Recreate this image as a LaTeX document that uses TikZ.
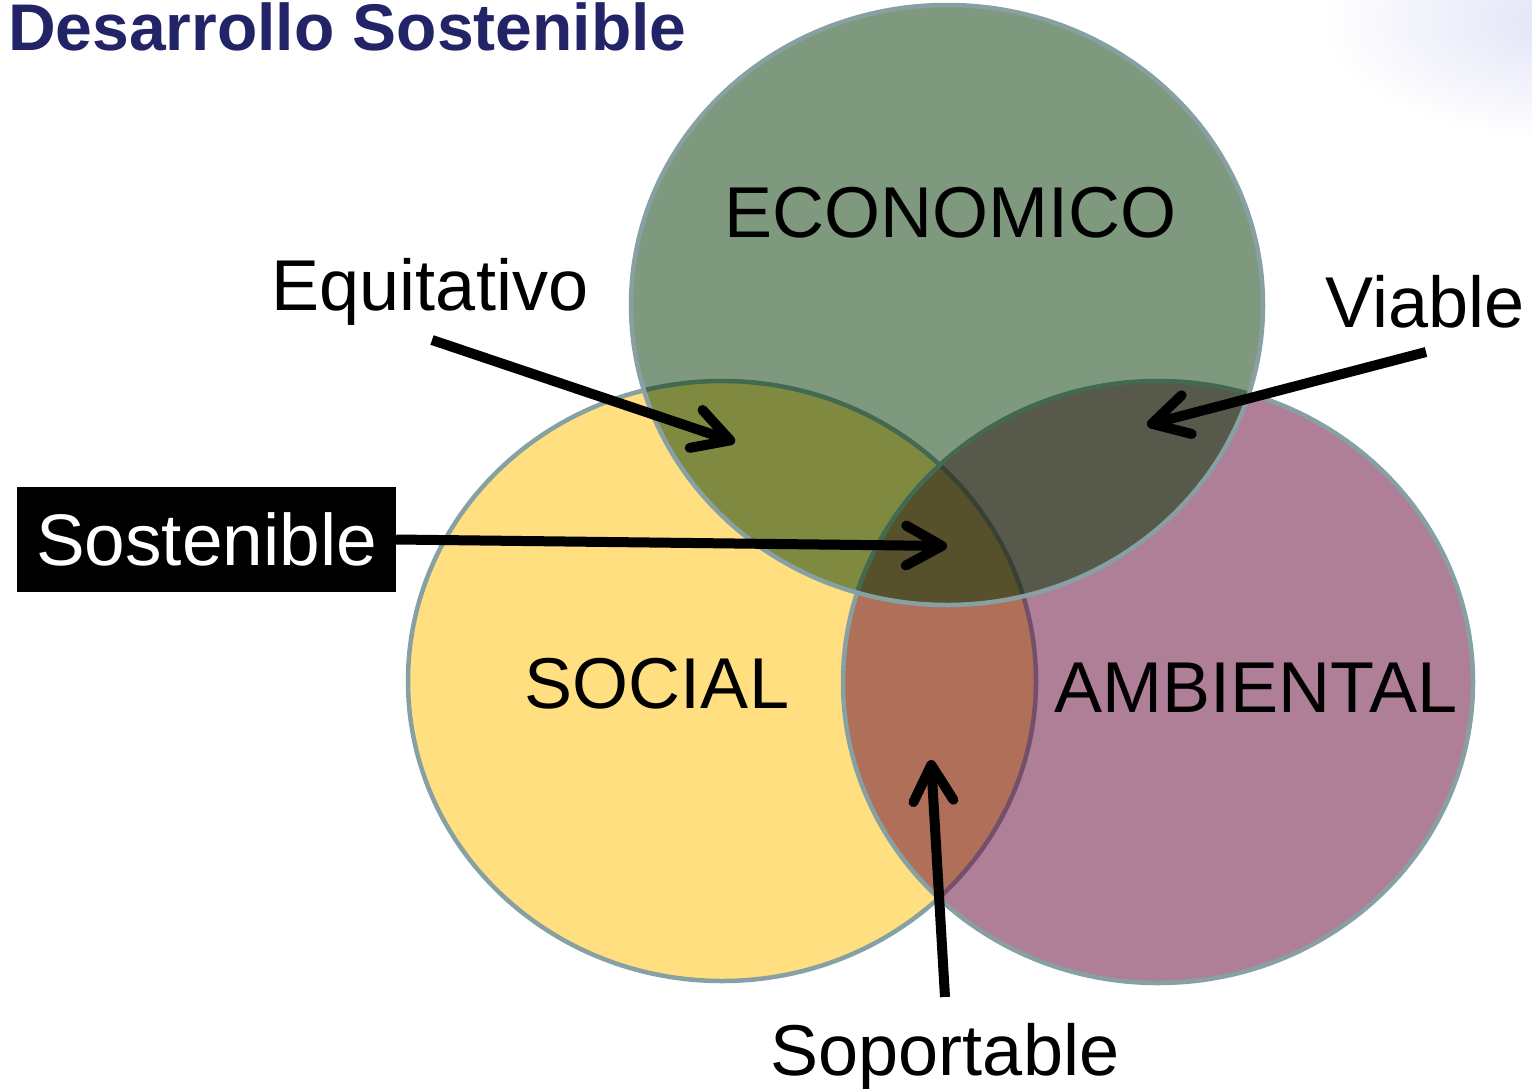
\documentclass[tikz,border=0pt]{standalone}
\usepackage{fontspec}
\setmainfont{Liberation Sans}
\usetikzlibrary{arrows.meta}
\definecolor{socialc}{RGB}{255,223,128}
\definecolor{ambc}{RGB}{97,0,49}
\definecolor{ecoc}{RGB}{0,53,0}
\definecolor{edgec}{RGB}{134,160,164}
\definecolor{titlec}{RGB}{35,35,104}
\definecolor{glowc}{RGB}{224,226,246}
\begin{document}
\begin{tikzpicture}[x=1pt,y=-1pt,
  lbl/.style={font=\fontsize{72}{80}\selectfont, inner sep=0pt, anchor=base},
  arr/.style={line width=10pt, -{Straight Barb[length=36pt,width=40pt,round]}},
  venn/.style={draw=edgec, line width=4.5pt, fill opacity=0.5}]
\useasboundingbox (0,0) rectangle (1532,1088);
\fill[white] (0,0) rectangle (1532,1088);
\shade[inner color=glowc, outer color=white] (1570,20) ellipse [x radius=250pt, y radius=120pt];
% circles
\path[venn, fill=socialc, fill opacity=1] (722,681) ellipse [x radius=314pt, y radius=300pt];
\path[venn, fill=ambc] (1158,682) ellipse [x radius=315pt, y radius=301pt];
\path[venn, fill=ecoc] (947,305) ellipse [x radius=316pt, y radius=300pt];
% title
\node[font=\bfseries\fontsize{66}{70}\selectfont, text=titlec, anchor=base west, inner sep=0pt] (title) at (8,50) {Desarrollo Sostenible};
% labels
\node[lbl] (eco) at (950,237) {ECONOMICO};
\node[lbl] (soc) at (657,708) {SOCIAL};
\node[lbl] (amb) at (1256,712) {AMBIENTAL};
\node[lbl] (equi) at (430,310) {Equitativo};
\node[lbl] (via) at (1425,327) {Viable};
\node[lbl] (sopo) at (945,1075) {Soportable};
\node[fill=black, text=white, font=\fontsize{73}{80}\selectfont, minimum width=379pt, minimum height=105pt, inner sep=0pt] (sost) at (206.5,539.5) {Sostenible};
% arrow ends
\coordinate (equiS) at (432,340);
\coordinate (equiT) at (735,442);
\coordinate (sostT) at (947,546);
\coordinate (viaS) at (1426,352);
\coordinate (viaT) at (1147,425);
\coordinate (sopoS) at (945,997);
\coordinate (sopoT) at (931,760);
\draw[arr] (equiS) -- (equiT);
\draw[arr] (sost.east) -- (sostT);
\draw[arr] (viaS) -- (viaT);
\draw[arr] (sopoS) -- (sopoT);
\end{tikzpicture}
\end{document}
